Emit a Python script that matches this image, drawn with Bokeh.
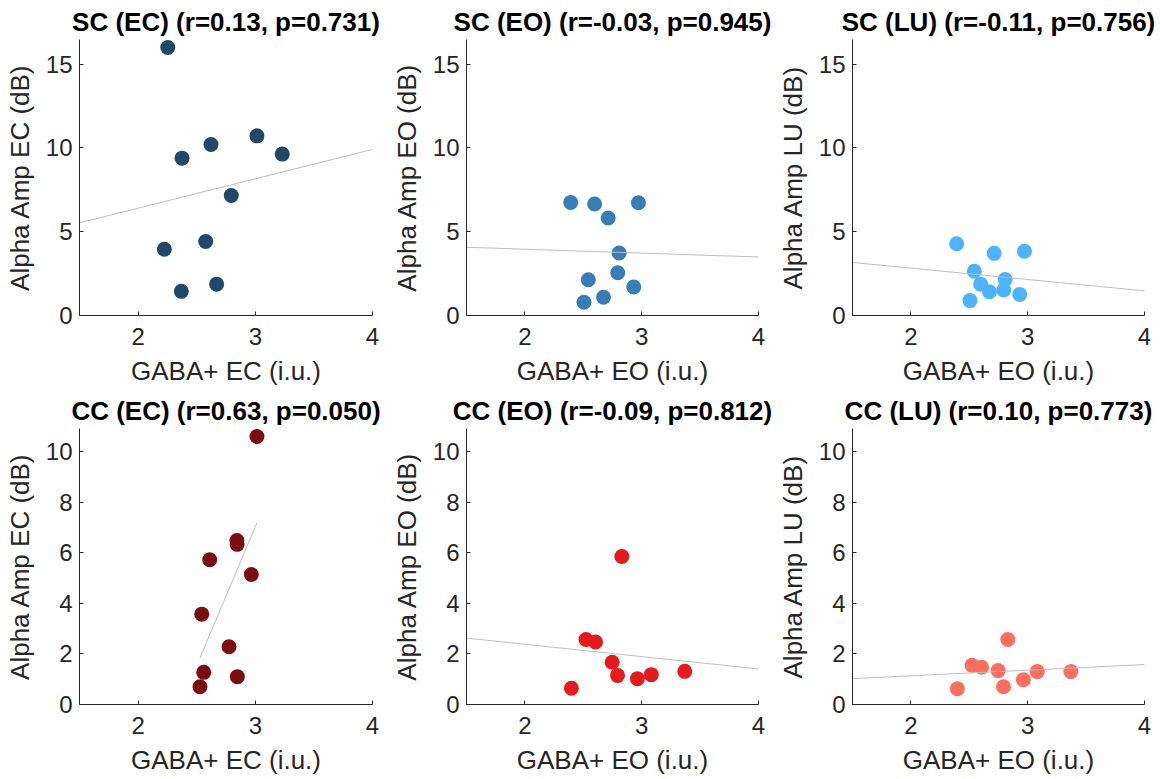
import numpy as np
from bokeh.plotting import figure
from bokeh.layouts import gridplot
from bokeh.models import Range1d, FixedTicker
from bokeh.embed import file_html
from bokeh.resources import INLINE

# ---- data: GABA+ (i.u.) vs alpha amplitude (dB) per subject ----
# SC group
sc_gaba_ec = [2.253, 2.375, 2.622, 3.014, 3.230, 2.795, 2.577, 2.224, 2.369, 2.670]
sc_alpha_ec = [15.99, 9.39, 10.20, 10.72, 9.63, 7.16, 4.42, 3.95, 1.44, 1.87]
sc_gaba_eo = [2.392, 2.597, 2.713, 2.972, 2.807, 2.795, 2.543, 2.932, 2.673, 2.506]
sc_alpha_eo = [6.75, 6.65, 5.82, 6.73, 3.73, 2.55, 2.13, 1.70, 1.09, 0.79]
sc_alpha_lu = [4.28, 1.87, 3.71, 3.83, 2.15, 1.52, 2.64, 1.26, 1.42, 0.89]

# CC group
cc_gaba_ec = [3.014, 2.843, 2.845, 2.611, 2.966, 2.543, 2.776, 2.560, 2.847, 2.528]
cc_alpha_ec = [10.59, 6.48, 6.33, 5.72, 5.14, 3.57, 2.28, 1.27, 1.10, 0.70]
cc_gaba_eo = [2.398, 2.523, 2.605, 2.747, 2.793, 2.830, 2.963, 3.082, 3.369]
cc_alpha_eo = [0.64, 2.57, 2.47, 1.67, 1.15, 5.85, 1.02, 1.18, 1.31]
cc_alpha_lu = [0.62, 1.55, 1.47, 1.34, 0.70, 2.57, 0.98, 1.30, 1.30]

titles = [
    "SC (EC) (r=0.13, p=0.731)", "SC (EO) (r=-0.03, p=0.945)", "SC (LU) (r=-0.11, p=0.756)",
    "CC (EC) (r=0.63, p=0.050)", "CC (EO) (r=-0.09, p=0.812)", "CC (LU) (r=0.10, p=0.773)",
]
x_labels = ["GABA+ EC (i.u.)", "GABA+ EO (i.u.)", "GABA+ EO (i.u.)"] * 2
y_labels = ["Alpha Amp EC (dB)", "Alpha Amp EO (dB)", "Alpha Amp LU (dB)"] * 2
x_ticks = [2, 3, 4]
y_ticks_top = [0, 5, 10, 15]
y_ticks_bottom = [0, 2, 4, 6, 8, 10]

colors = ["#1f4869", "#377eb8", "#4db3ff", "#7d0e0f", "#e41a1c", "#fc6e60"]

FONT = "Liberation Sans"
INK = "#262626"
FRAME_W, FRAME_H = 293, 278
X_MIN, X_MAX = 1.5, 4.0


def panel(x, y, color, title, xlabel, ylabel, ymax, yticks, fit_over_data,
          left, right, top, bottom):
    p = figure(width=left + FRAME_W + right, height=top + FRAME_H + bottom,
               x_range=Range1d(X_MIN, X_MAX), y_range=Range1d(0, ymax),
               output_backend="svg", toolbar_location=None,
               min_border_left=left, min_border_right=right,
               min_border_top=top, min_border_bottom=bottom)
    p.outline_line_color = None
    p.xgrid.visible = False
    p.ygrid.visible = False
    p.background_fill_color = "white"
    p.border_fill_color = "white"

    p.title.text = title
    p.title.align = "center"
    p.title.text_font = FONT
    p.title.text_font_size = "26px"
    p.title.text_font_style = "bold"
    p.title.text_color = "black"
    p.title.standoff = 6

    for ax, lab, ticks in ((p.xaxis[0], xlabel, x_ticks), (p.yaxis[0], ylabel, yticks)):
        ax.ticker = FixedTicker(ticks=ticks)
        ax.axis_label = lab
        ax.axis_label_text_font = FONT
        ax.axis_label_text_font_size = "26px"
        ax.axis_label_text_font_style = "normal"
        ax.axis_label_text_color = INK
        ax.major_label_text_font = FONT
        ax.major_label_text_font_size = "24px"
        ax.major_label_text_color = INK
        ax.axis_line_color = INK
        ax.axis_line_width = 1
        ax.major_tick_line_color = INK
        ax.major_tick_in = 4
        ax.major_tick_out = 0
        ax.minor_tick_line_color = None
    p.xaxis.major_label_standoff = 12
    p.xaxis.axis_label_standoff = 8
    p.yaxis.major_label_standoff = 7
    p.yaxis.axis_label_standoff = 8

    p.scatter(x, y, size=15, fill_color=color, line_color=None)

    # least-squares line
    xa = np.asarray(x, dtype=float)
    ya = np.asarray(y, dtype=float)
    slope, icpt = np.polyfit(xa, ya, 1)
    if fit_over_data:
        xs = np.array([xa.min(), xa.max()])
    else:
        xs = np.array([X_MIN, X_MAX])
    p.line(xs, slope * xs + icpt, line_color="#bdbdbd", line_width=1)
    return p


xs_all = [sc_gaba_ec, sc_gaba_eo, sc_gaba_eo, cc_gaba_ec, cc_gaba_eo, cc_gaba_eo]
ys_all = [sc_alpha_ec, sc_alpha_eo, sc_alpha_lu, cc_alpha_ec, cc_alpha_eo, cc_alpha_lu]
fit_over_data = [False, False, False, True, False, False]

ymax_top = 1.03 * max(max(v) for v in ys_all[:3])
ymax_bottom = 1.03 * max(max(v) for v in ys_all[3:])

borders_lr = [(79, 16), (77, 16), (77, 16)]
rows = []
for r in range(2):
    row = []
    for c in range(3):
        i = r * 3 + c
        left, right = borders_lr[c]
        if r == 0:
            top, bottom, ymax, yt = 39, 71, ymax_top, y_ticks_top
        else:
            top, bottom, ymax, yt = 40, 71, ymax_bottom, y_ticks_bottom
        row.append(panel(xs_all[i], ys_all[i], colors[i], titles[i], x_labels[i],
                         y_labels[i], ymax, yt, fit_over_data[i],
                         left, right, top, bottom))
    rows.append(row)

grid = gridplot(rows, toolbar_location=None)

open("out.html", "w").write(file_html(grid, INLINE))
